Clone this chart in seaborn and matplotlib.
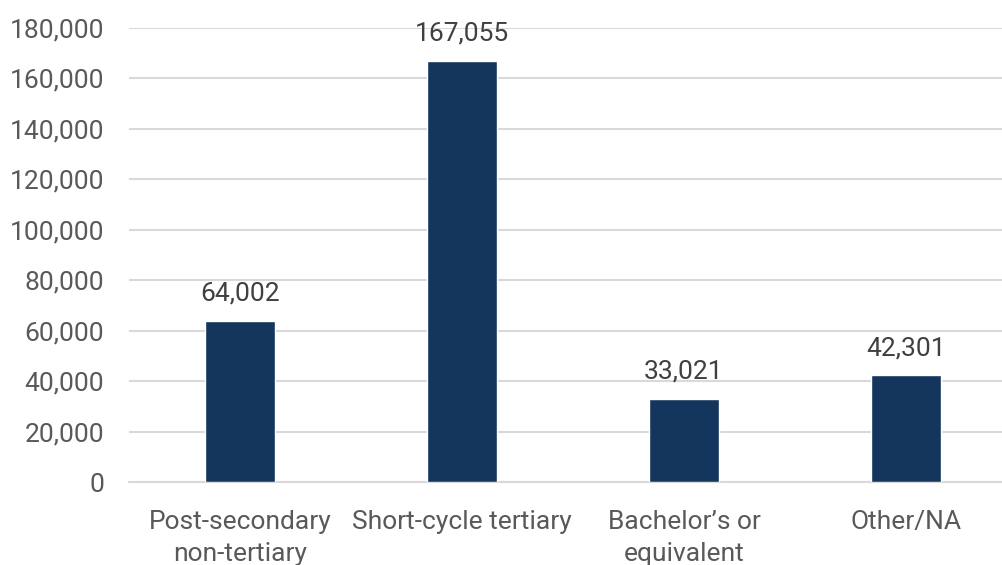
import matplotlib
matplotlib.use("Agg")
import matplotlib.pyplot as plt
import pandas as pd
import seaborn as sns
from matplotlib.ticker import FuncFormatter, MultipleLocator

categories = ["Post-secondary\nnon-tertiary", "Short-cycle tertiary",
              "Bachelor\u2019s or\nequivalent", "Other/NA"]
values = [64002, 167055, 33021, 42301]

BAR_COLOR = "#14365D"
TICK_COLOR = "#595959"
LABEL_COLOR = "#404040"
GRID_COLOR = "#D9D9D9"

sns.set_theme(style="white")
plt.rcParams["font.family"] = ["Roboto", "DejaVu Sans"]

df = pd.DataFrame({"level": categories, "count": values})

fig = plt.figure(figsize=(10.03, 5.65), dpi=100)
# axes spans x 129..1017 px (right side cropped), y 28..482 px
ax = fig.add_axes([129 / 1003, (565 - 482) / 565, 888 / 1003, 454 / 565])

sns.barplot(data=df, x="level", y="count", color=BAR_COLOR, width=0.315,
            saturation=1, ax=ax, zorder=3)

ax.set_ylim(0, 180000)
ax.set_xlim(-0.5, 3.5)
ax.yaxis.set_major_locator(MultipleLocator(20000))
ax.yaxis.set_major_formatter(FuncFormatter(lambda v, _: f"{int(v):,}"))
ax.grid(axis="y", color=GRID_COLOR, linewidth=1.5, zorder=0)
ax.set_axisbelow(True)
for side in ["top", "right", "left"]:
    ax.spines[side].set_visible(False)
ax.spines["bottom"].set_color(GRID_COLOR)
ax.spines["bottom"].set_linewidth(1.5)
ax.set_xlabel("")
ax.set_ylabel("")
ax.tick_params(axis="y", length=0, pad=18, labelsize=19, labelcolor=TICK_COLOR)
ax.tick_params(axis="x", length=0, pad=20, labelsize=19, labelcolor=TICK_COLOR)
for lbl in ax.get_xticklabels():
    lbl.set_linespacing(1.45)

for cont in ax.containers:
    ax.bar_label(cont, labels=[f"{v:,}" for v in values], padding=11,
                 fontsize=19, color=LABEL_COLOR)

fig.savefig("out.png", dpi=100)
plt.close(fig)
